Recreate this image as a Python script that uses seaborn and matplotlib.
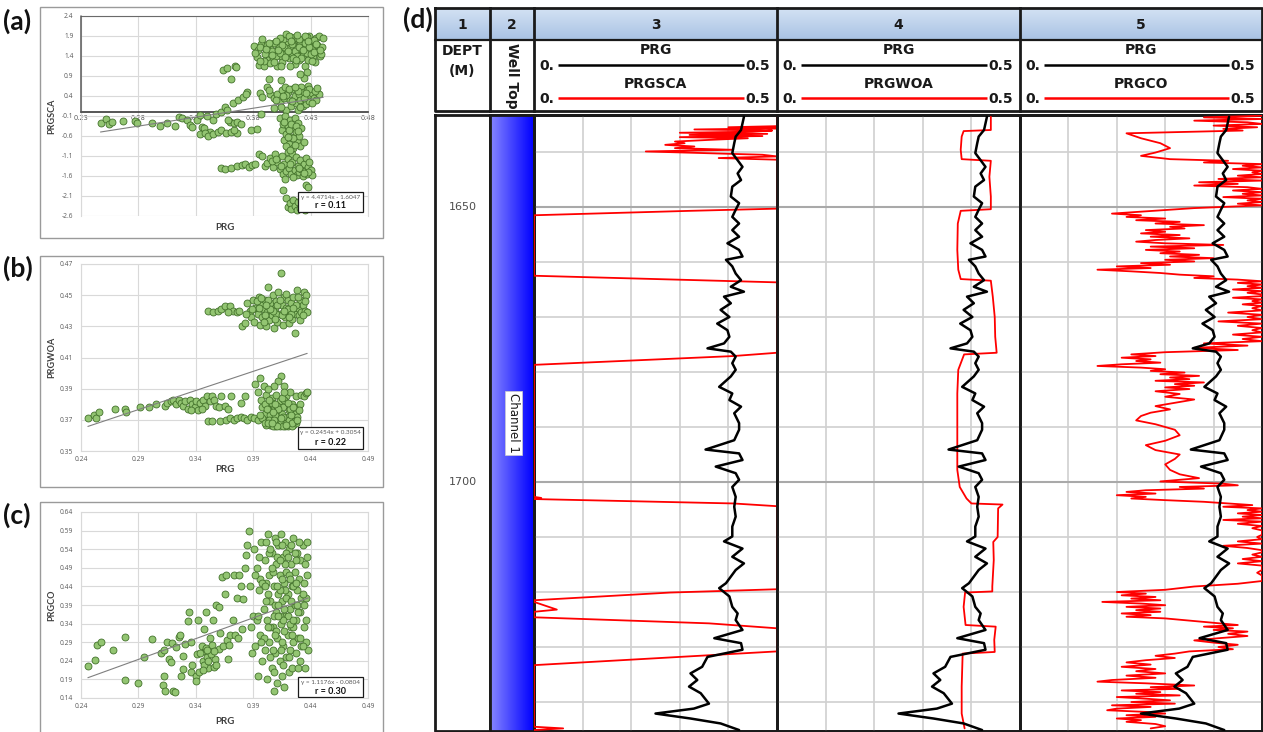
import numpy as np
import pandas as pd
import matplotlib
matplotlib.use("Agg")
import matplotlib.pyplot as plt
from matplotlib.patches import Rectangle
from matplotlib.colors import LinearSegmentedColormap
from matplotlib.ticker import FormatStrFormatter
import seaborn as sns

# ---------------------------------------------------------------- crossplot data
# (a) PRG vs PRGSCA
prg_a = [
    0.247, 0.252, 0.254, 0.257, 0.267, 0.277, 0.279, 0.292, 0.299, 0.305,
    0.312, 0.315, 0.318, 0.322, 0.325, 0.327, 0.331, 0.334, 0.335, 0.337,
    0.340, 0.342, 0.345, 0.334, 0.338, 0.341, 0.345, 0.349, 0.352, 0.356,
    0.361, 0.366, 0.363, 0.348, 0.352, 0.355, 0.357, 0.360, 0.363, 0.366,
    0.369, 0.358, 0.362, 0.367, 0.371, 0.375, 0.374, 0.354, 0.357, 0.364,
    0.361, 0.365, 0.378, 0.383, 0.385, 0.389, 0.394, 0.386, 0.388, 0.392,
    0.395, 0.398, 0.387,
    0.381, 0.384, 0.387, 0.390, 0.393, 0.395, 0.397, 0.399, 0.401, 0.402,
    0.404, 0.405, 0.406, 0.408, 0.409, 0.410, 0.411, 0.412, 0.413, 0.414,
    0.415, 0.416, 0.417, 0.418, 0.419, 0.420, 0.421, 0.422, 0.423, 0.424,
    0.425, 0.426, 0.427, 0.428, 0.429, 0.430, 0.431, 0.432, 0.433, 0.434,
    0.435, 0.436, 0.437, 0.438, 0.404, 0.395, 0.412, 0.427, 0.424, 0.428,
    0.421,
    0.383, 0.386, 0.389, 0.392, 0.396, 0.398, 0.400, 0.403, 0.407, 0.409,
    0.411, 0.414, 0.416, 0.418, 0.420, 0.422, 0.425, 0.427, 0.429, 0.431,
    0.433, 0.436, 0.439, 0.441, 0.440,
    0.394, 0.398, 0.401, 0.403, 0.405, 0.407, 0.409, 0.410, 0.412, 0.413,
    0.414, 0.416, 0.417, 0.418, 0.419, 0.420, 0.421, 0.422, 0.423, 0.424,
    0.425, 0.426, 0.427, 0.428, 0.429, 0.431, 0.433, 0.435, 0.437, 0.404,
    0.408,
    0.403, 0.405, 0.406, 0.407, 0.408, 0.409, 0.410, 0.411, 0.412, 0.413,
    0.414, 0.415, 0.416, 0.417, 0.418, 0.419, 0.420, 0.421, 0.422, 0.424,
    0.410, 0.414,
    0.352, 0.355, 0.361, 0.366, 0.370, 0.373, 0.376, 0.379, 0.382, 0.385,
    0.388, 0.390, 0.392, 0.395, 0.397, 0.399, 0.401, 0.403, 0.405, 0.406,
    0.407, 0.408, 0.409, 0.410, 0.411, 0.413, 0.414, 0.416, 0.417, 0.418,
    0.419, 0.420, 0.421, 0.422, 0.423, 0.424, 0.425, 0.426, 0.427, 0.428,
    0.429, 0.430, 0.431,
    0.406, 0.409, 0.410, 0.412, 0.413, 0.415, 0.416, 0.418, 0.419, 0.421,
    0.422, 0.423, 0.425, 0.426, 0.428, 0.428,
    0.382, 0.386, 0.391, 0.396, 0.400, 0.405, 0.410, 0.415, 0.420, 0.425,
    0.430, 0.435, 0.388, 0.394, 0.403, 0.413, 0.423, 0.433, 0.398, 0.418,
    0.408, 0.428, 0.438, 0.402, 0.417,
    0.400, 0.404, 0.409, 0.414, 0.419, 0.424, 0.429, 0.434, 0.411, 0.421,
    0.416, 0.426, 0.406, 0.431, 0.436,
    0.407, 0.409, 0.411, 0.413, 0.415, 0.417, 0.419, 0.412, 0.416, 0.410,
    0.396, 0.400, 0.404, 0.412, 0.420, 0.428, 0.415, 0.424,
]
prgsca_a = [
    -0.27, -0.18, -0.30, -0.24, -0.22, -0.22, -0.28, -0.28, -0.35, -0.28,
    -0.35, -0.13, -0.16, -0.20, -0.33, -0.38, -0.20, -0.08, -0.37, -0.41,
    -0.10, -0.49, -0.20, -0.55, -0.52, -0.60, -0.56, -0.50, -0.45, -0.52,
    -0.49, -0.52, -0.45, -0.05, 0.00, 0.12, 0.05, -0.25, -0.28, -0.26,
    -0.30, -0.20, 0.22, 0.30, 0.38, 0.50, 0.45, 1.05, 1.10, 1.15,
    0.82, 1.12, -0.45, -0.42, 1.18, 1.15, 0.82, 0.48, 0.38, 0.62,
    0.45, 0.35, -0.05,
    1.65, 1.55, 1.70, 1.45, 1.30, 1.60, 1.35, 1.50, 1.15, 1.65,
    1.40, 1.25, 1.80, 1.55, 1.95, 1.70, 1.35, 1.60, 1.88, 1.45,
    1.75, 1.20, 1.62, 1.85, 1.50, 1.30, 1.70, 1.58, 1.42, 1.82,
    1.15, 1.65, 1.48, 1.30, 1.90, 1.55, 1.75, 1.40, 1.62, 1.25,
    1.85, 1.50, 1.90, 1.40, 1.15, 1.22, 1.15, 1.00, 0.85, 0.65,
    0.95,
    1.38, 1.62, 1.28, 1.68, 1.52, 1.72, 1.40, 1.85, 1.62, 1.45,
    1.90, 1.70, 1.52, 1.40, 1.82, 1.35, 1.72, 1.88, 1.62, 1.28,
    1.80, 1.68, 1.45, 1.85, 1.62,
    0.55, 0.10, 0.45, 0.25, 0.55, 0.35, 0.05, 0.50, 0.30, 0.15,
    0.58, 0.40, 0.22, 0.60, 0.05, 0.45, 0.30, 0.62, 0.15, 0.50,
    0.35, 0.20, 0.55, 0.40, 0.28, 0.48, 0.35, 0.30, 0.45, 0.80,
    0.62,
    -0.15, -0.45, -0.30, -0.70, -0.10, -0.55, -0.35, -0.80, -0.20, -0.62,
    -0.40, -0.90, -0.15, -0.50, -0.72, -0.28, -0.60, -0.85, -0.40, -0.75,
    -1.00, -1.05,
    -1.40, -1.42, -1.40, -1.36, -1.32, -1.30, -1.38, -1.32, -1.30, -1.05,
    -1.10, -1.35, -1.28, -1.15, -1.38, -1.05, -1.25, -1.42, -1.10, -1.55,
    -1.30, -1.68, -1.48, -1.18, -1.40, -1.55, -1.25, -1.45, -1.12, -1.58,
    -1.35, -1.50, -1.20, -1.42, -1.60, -1.30, -1.48, -1.15, -1.55, -1.38,
    -1.25, -1.45, -1.58,
    -1.95, -2.15, -2.38, -2.28, -2.42, -2.20, -2.35, -2.45, -2.25, -2.40,
    -2.18, -2.32, -2.44, -1.82, -1.88, -2.30,
    1.48, 1.28, 1.58, 1.42, 1.78, 1.68, 1.52, 1.35, 1.62, 1.90,
    1.45, 1.70, 1.82, 1.72, 1.48, 1.78, 1.55, 1.50, 1.25, 1.92,
    1.38, 1.78, 1.55, 1.55, 1.30,
    0.30, 0.12, 0.42, 0.28, 0.52, 0.35, 0.58, 0.52, 0.58, 0.12,
    0.62, 0.48, 0.40, 0.22, 0.60,
    -0.25, -0.85, -0.45, -0.30, -0.65, -0.35, -0.48, -0.95, -0.82, -0.62,
    -1.22, -1.18, -1.35, -1.30, -1.40, -1.50, -1.62, -1.52,
]

# (b) PRG vs PRGWOA
prg_b = [
    0.246, 0.251, 0.253, 0.256, 0.270, 0.278, 0.279, 0.291, 0.299, 0.305,
    0.313, 0.315, 0.318, 0.320, 0.323, 0.325, 0.327, 0.329, 0.331, 0.333,
    0.335, 0.337, 0.339, 0.340, 0.342, 0.344, 0.346, 0.348, 0.350, 0.352,
    0.354, 0.356, 0.358, 0.360, 0.362, 0.365, 0.368, 0.371, 0.379, 0.383,
    0.345, 0.336,
    0.351, 0.354, 0.361, 0.366, 0.370, 0.373, 0.376, 0.379, 0.382, 0.385,
    0.388, 0.391, 0.394,
    0.392, 0.394, 0.396, 0.397, 0.398, 0.399, 0.400, 0.401, 0.402, 0.403,
    0.404, 0.405, 0.406, 0.407, 0.408, 0.409, 0.410, 0.411, 0.412, 0.413,
    0.414, 0.415, 0.416, 0.417, 0.418, 0.419, 0.420, 0.421, 0.422, 0.423,
    0.424, 0.425, 0.426, 0.427, 0.428, 0.429, 0.431, 0.432, 0.434, 0.436,
    0.437, 0.430, 0.427, 0.412, 0.408, 0.403, 0.418, 0.405, 0.410, 0.415,
    0.420, 0.400, 0.398, 0.413,
    0.401, 0.404, 0.407, 0.409, 0.411, 0.414, 0.416, 0.419, 0.421, 0.424,
    0.426, 0.402, 0.406, 0.411, 0.417, 0.422,
    0.351, 0.355, 0.359, 0.362, 0.365, 0.370, 0.372, 0.376, 0.380, 0.383,
    0.385, 0.387, 0.388, 0.390, 0.391, 0.392, 0.394, 0.395, 0.396, 0.397,
    0.398, 0.399, 0.400, 0.401, 0.402, 0.403, 0.404, 0.405, 0.406, 0.407,
    0.408, 0.409, 0.410, 0.411, 0.412, 0.413, 0.414, 0.415, 0.416, 0.417,
    0.418, 0.419, 0.420, 0.421, 0.422, 0.423, 0.424, 0.425, 0.426, 0.427,
    0.428, 0.429, 0.430, 0.431, 0.432, 0.433, 0.434, 0.435, 0.436, 0.437,
    0.393, 0.400, 0.410, 0.420,
    0.395, 0.399, 0.403, 0.407, 0.411, 0.415, 0.419, 0.423, 0.427, 0.431,
    0.435, 0.397, 0.405, 0.413, 0.421, 0.429, 0.401, 0.409, 0.417, 0.425,
    0.433, 0.389, 0.384, 0.378, 0.368,
    0.396, 0.400, 0.404, 0.408, 0.412, 0.416, 0.420, 0.424, 0.428, 0.403,
    0.407, 0.411, 0.415, 0.419, 0.423, 0.409, 0.417, 0.425, 0.414, 0.406,
]
prgwoa_b = [
    0.371, 0.373, 0.371, 0.375, 0.377, 0.377, 0.375, 0.378, 0.378, 0.380,
    0.379, 0.381, 0.382, 0.383, 0.380, 0.383, 0.381, 0.379, 0.382, 0.377,
    0.383, 0.380, 0.378, 0.382, 0.376, 0.381, 0.383, 0.379, 0.385, 0.382,
    0.385, 0.383, 0.379, 0.378, 0.385, 0.379, 0.377, 0.385, 0.381, 0.385,
    0.377, 0.376,
    0.369, 0.369, 0.369, 0.370, 0.371, 0.370, 0.371, 0.372, 0.371, 0.370,
    0.372, 0.371, 0.370,
    0.393, 0.388, 0.397, 0.383, 0.378, 0.392, 0.374, 0.386, 0.369, 0.381,
    0.376, 0.367, 0.384, 0.372, 0.379, 0.366, 0.386, 0.374, 0.369, 0.382,
    0.398, 0.367, 0.378, 0.392, 0.371, 0.385, 0.366, 0.376, 0.388, 0.369,
    0.380, 0.367, 0.374, 0.385, 0.372, 0.378, 0.380, 0.386, 0.385, 0.387,
    0.388, 0.376, 0.368, 0.395, 0.392, 0.390, 0.366, 0.373, 0.370, 0.374,
    0.372, 0.380, 0.371, 0.366,
    0.367, 0.370, 0.366, 0.373, 0.367, 0.369, 0.366, 0.368, 0.370, 0.366,
    0.369, 0.377, 0.381, 0.379, 0.383, 0.377,
    0.440, 0.439, 0.440, 0.441, 0.443, 0.443, 0.440, 0.439, 0.430, 0.432,
    0.445, 0.440, 0.436, 0.447, 0.433, 0.442, 0.438, 0.449, 0.431, 0.444,
    0.436, 0.441, 0.447, 0.430, 0.439, 0.455, 0.434, 0.445, 0.437, 0.450,
    0.429, 0.442, 0.446, 0.433, 0.452, 0.438, 0.464, 0.444, 0.431, 0.449,
    0.436, 0.442, 0.447, 0.432, 0.440, 0.445, 0.435, 0.449, 0.426, 0.438,
    0.453, 0.442, 0.437, 0.447, 0.439, 0.444, 0.452, 0.440, 0.450, 0.439,
    0.446, 0.437, 0.438, 0.441,
    0.442, 0.433, 0.447, 0.440, 0.444, 0.437, 0.451, 0.438, 0.444, 0.434,
    0.446, 0.448, 0.441, 0.447, 0.436, 0.449, 0.444, 0.435, 0.440, 0.442,
    0.437, 0.441, 0.438, 0.440, 0.439,
    0.373, 0.368, 0.383, 0.370, 0.377, 0.372, 0.381, 0.368, 0.370, 0.368,
    0.375, 0.366, 0.384, 0.367, 0.373, 0.380, 0.388, 0.378, 0.371, 0.368,
]

# (c) PRG vs PRGCO
prg_c = [
    0.246, 0.252, 0.254, 0.257, 0.268, 0.278, 0.278, 0.290, 0.295, 0.302,
    0.310, 0.312, 0.312, 0.311, 0.313, 0.315, 0.317, 0.318, 0.319, 0.320,
    0.322, 0.323, 0.325, 0.326, 0.327, 0.329, 0.329, 0.331, 0.333, 0.334,
    0.336, 0.336, 0.337, 0.340, 0.340, 0.342, 0.341, 0.343, 0.345, 0.347,
    0.348, 0.349, 0.346, 0.350, 0.351, 0.352, 0.353, 0.355, 0.356, 0.357,
    0.358, 0.360, 0.360, 0.361, 0.363, 0.364, 0.365, 0.366, 0.367, 0.368,
    0.369, 0.370, 0.372, 0.373, 0.374, 0.376, 0.377, 0.378, 0.379, 0.380,
    0.381, 0.383, 0.384, 0.385, 0.386, 0.387, 0.388, 0.389, 0.390,
    0.344, 0.347, 0.349, 0.351, 0.353, 0.354, 0.356, 0.358, 0.346, 0.350,
    0.391, 0.392, 0.393, 0.394, 0.395, 0.396, 0.397, 0.398, 0.399, 0.400,
    0.400, 0.401, 0.402, 0.402, 0.403, 0.404, 0.404, 0.405, 0.406, 0.406,
    0.407, 0.408, 0.408, 0.409, 0.409, 0.410, 0.410, 0.411, 0.411, 0.412,
    0.412, 0.413, 0.413, 0.414, 0.414, 0.415, 0.415, 0.416, 0.416, 0.417,
    0.417, 0.418, 0.418, 0.419, 0.419, 0.420, 0.420, 0.421, 0.421, 0.422,
    0.422, 0.423, 0.423, 0.424, 0.424, 0.425, 0.425, 0.426, 0.426, 0.427,
    0.427, 0.428, 0.428, 0.429, 0.429, 0.430, 0.431, 0.431, 0.432, 0.432,
    0.433, 0.434, 0.434, 0.435, 0.435, 0.436, 0.436, 0.437, 0.438, 0.437,
    0.393, 0.396, 0.399, 0.401, 0.403, 0.405, 0.407, 0.409, 0.411, 0.413,
    0.415, 0.417, 0.419, 0.421, 0.423, 0.425, 0.427, 0.429, 0.431, 0.433,
    0.405, 0.410, 0.415, 0.420, 0.425, 0.412, 0.418, 0.408, 0.422, 0.414,
    0.392, 0.395, 0.398, 0.401, 0.404, 0.407, 0.410, 0.413, 0.416, 0.419,
    0.422, 0.425, 0.428, 0.431, 0.434, 0.437, 0.394, 0.400, 0.406, 0.412,
    0.418, 0.424, 0.430, 0.436, 0.397, 0.403, 0.409, 0.415, 0.421, 0.427,
    0.433, 0.411, 0.417, 0.423, 0.405, 0.413, 0.420, 0.426, 0.408, 0.416,
]
prgco_c = [
    0.226, 0.241, 0.283, 0.290, 0.268, 0.303, 0.188, 0.181, 0.250, 0.298,
    0.262, 0.270, 0.200, 0.176, 0.160, 0.290, 0.244, 0.236, 0.288, 0.158,
    0.155, 0.278, 0.305, 0.310, 0.200, 0.218, 0.253, 0.285, 0.348, 0.370,
    0.290, 0.210, 0.230, 0.200, 0.185, 0.350, 0.258, 0.210, 0.280, 0.325,
    0.265, 0.370, 0.240, 0.250, 0.220, 0.300, 0.272, 0.350, 0.222, 0.245,
    0.390, 0.385, 0.272, 0.315, 0.465, 0.280, 0.420, 0.470, 0.295, 0.245,
    0.282, 0.310, 0.350, 0.470, 0.310, 0.410, 0.300, 0.470, 0.440, 0.325,
    0.405, 0.490, 0.525, 0.550, 0.590, 0.440, 0.330, 0.260, 0.360,
    0.262, 0.228, 0.275, 0.240, 0.258, 0.282, 0.265, 0.230, 0.215, 0.268,
    0.54, 0.28, 0.49, 0.20, 0.43, 0.31, 0.56, 0.24, 0.38, 0.51,
    0.27, 0.45, 0.19, 0.35, 0.58, 0.29, 0.47, 0.40, 0.22, 0.53,
    0.33, 0.16, 0.44, 0.57, 0.26, 0.37, 0.50, 0.18, 0.30, 0.42,
    0.55, 0.24, 0.47, 0.34, 0.58, 0.20, 0.40, 0.52, 0.28, 0.45,
    0.17, 0.36, 0.56, 0.25, 0.48, 0.31, 0.42, 0.21, 0.54, 0.38,
    0.27, 0.50, 0.33, 0.44, 0.22, 0.57, 0.29, 0.39, 0.48, 0.26,
    0.35, 0.53, 0.43, 0.30, 0.22, 0.46, 0.37, 0.51, 0.28, 0.41,
    0.55, 0.33, 0.45, 0.50, 0.22, 0.29, 0.41, 0.52, 0.27, 0.56,
    0.35, 0.46, 0.30, 0.56, 0.42, 0.33, 0.48, 0.39, 0.52, 0.36,
    0.46, 0.32, 0.41, 0.47, 0.40, 0.44, 0.51, 0.37, 0.24, 0.42,
    0.25, 0.32, 0.29, 0.36, 0.33, 0.39, 0.43, 0.36, 0.34, 0.27,
    0.47, 0.52, 0.45, 0.40, 0.53, 0.27, 0.56, 0.43, 0.35, 0.53,
    0.46, 0.35, 0.39, 0.30, 0.39, 0.47, 0.36, 0.44, 0.49, 0.36,
    0.50, 0.31, 0.56, 0.35, 0.29, 0.33, 0.31, 0.55, 0.25, 0.45,
    0.28, 0.44, 0.38, 0.55, 0.54, 0.51, 0.52, 0.53, 0.21, 0.23,
]

# trend lines printed on each crossplot: slope, intercept, r
fit_a = (4.4714, -1.6047, 0.11)
fit_b = (0.2454, 0.3054, 0.22)
fit_c = (1.1176, -0.0804, 0.30)

# ---------------------------------------------------------------- well log data
prg_depth = [
    1633.6, 1634.8, 1636.0, 1637.2, 1638.4, 1640.2, 1641.5, 1642.7, 1643.9, 1645.1,
    1646.3, 1648.1, 1649.3, 1650.5, 1651.8, 1653.0, 1654.2, 1655.4, 1656.6, 1657.8,
    1659.0, 1659.6, 1660.8, 1662.1, 1663.3, 1664.5, 1665.4, 1666.3, 1667.5, 1668.7,
    1670.0, 1671.2, 1672.4, 1673.6, 1674.8, 1675.7, 1676.3, 1677.2, 1678.4, 1679.6,
    1680.8, 1682.7, 1683.9, 1685.1, 1686.3, 1687.5, 1689.3, 1690.5, 1692.4, 1694.1,
    1694.8, 1696.0, 1697.2, 1698.4, 1699.6, 1700.9, 1702.7, 1704.5, 1706.3, 1708.1,
    1709.9, 1710.8, 1712.1, 1713.6, 1714.8, 1716.0, 1717.2, 1718.4, 1719.3, 1720.8,
    1722.7, 1723.9, 1725.1, 1726.9, 1728.4, 1729.3, 1730.5, 1731.8, 1733.6, 1734.8,
    1736.0, 1737.2, 1738.4, 1740.3, 1741.2, 1742.1, 1743.0, 1743.9, 1745.1,
]
prg_log = [
    0.432, 0.429, 0.426, 0.415, 0.412, 0.408, 0.419, 0.429, 0.419, 0.426,
    0.408, 0.405, 0.422, 0.415, 0.408, 0.422, 0.408, 0.422, 0.398, 0.422,
    0.429, 0.395, 0.408, 0.415, 0.426, 0.405, 0.432, 0.391, 0.405, 0.384,
    0.402, 0.377, 0.398, 0.402, 0.391, 0.357, 0.405, 0.415, 0.408, 0.415,
    0.405, 0.381, 0.408, 0.402, 0.426, 0.412, 0.422, 0.422, 0.412, 0.353,
    0.422, 0.429, 0.374, 0.415, 0.422, 0.408, 0.415, 0.412, 0.415, 0.408,
    0.408, 0.391, 0.429, 0.408, 0.432, 0.415, 0.405, 0.395, 0.381, 0.402,
    0.408, 0.419, 0.415, 0.429, 0.371, 0.426, 0.429, 0.357, 0.346, 0.322,
    0.336, 0.319, 0.343, 0.360, 0.329, 0.250, 0.322, 0.384, 0.422,
]

prgsca_depth = [
    1633.3, 1635.3, 1635.5, 1635.7, 1635.9, 1636.1, 1636.3, 1636.5, 1636.7, 1636.9,
    1637.1, 1637.3, 1637.5, 1637.8, 1638.1, 1638.4, 1638.7, 1639.0, 1639.3, 1639.6,
    1639.9, 1640.2, 1640.5, 1640.8, 1641.1, 1641.4, 1649.9, 1650.3, 1650.7, 1651.5,
    1662.4, 1662.5, 1663.7, 1663.9, 1676.3, 1676.5, 1677.1, 1678.7, 1678.9, 1702.7,
    1702.9, 1703.1, 1703.9, 1704.4, 1719.3, 1719.5, 1720.1, 1721.5, 1721.8, 1723.2,
    1723.6, 1724.6, 1725.7, 1726.6, 1726.9, 1730.5, 1730.8, 1731.5, 1733.3, 1733.6,
    1744.5, 1744.8, 1745.1,
]
prgsca_log = [
    1.50, 1.40, 0.40, 0.50, 0.33, 0.49, 0.45, 0.30, 0.48, 0.32,
    0.47, 0.30, 0.44, 0.36, 0.29, 0.31, 0.27, 0.33, 0.29, 0.41,
    0.23, 0.35, 0.47, 0.52, 0.38, 0.90, 1.10, 0.60, 0.32, -0.50,
    -0.60, -0.10, 0.60, 1.20, 1.10, 0.55, 0.41, -0.05, -0.80, -0.70,
    0.015, -0.02, 0.41, 1.20, 1.30, 0.50, 0.28, -0.05, -0.70, 0.047,
    -0.30, -0.02, 0.36, 0.55, 1.20, 1.10, 0.50, 0.36, -0.03, -0.90,
    -1.00, 0.06, -0.50,
]

prgwoa_depth = [
    1633.6, 1636.0, 1636.2, 1637.2, 1639.6, 1641.3, 1641.6, 1644.5, 1648.1, 1650.4,
    1650.7, 1653.0, 1657.8, 1661.4, 1663.1, 1663.4, 1666.3, 1670.0, 1673.6, 1676.5,
    1676.8, 1679.6, 1683.9, 1689.9, 1697.8, 1700.9, 1703.0, 1703.9, 1704.1, 1704.8,
    1710.0, 1710.9, 1714.2, 1719.0, 1719.9, 1720.1, 1722.7, 1726.0, 1726.3, 1728.7,
    1730.9, 1731.2, 1737.2, 1742.1, 1744.8,
]
prgwoa_log = [
    0.440, 0.440, 0.384, 0.380, 0.378, 0.380, 0.440, 0.437, 0.440, 0.440,
    0.378, 0.372, 0.371, 0.373, 0.378, 0.440, 0.444, 0.448, 0.449, 0.452,
    0.385, 0.373, 0.371, 0.371, 0.371, 0.376, 0.390, 0.400, 0.464, 0.455,
    0.454, 0.445, 0.446, 0.443, 0.443, 0.387, 0.384, 0.388, 0.450, 0.447,
    0.448, 0.382, 0.380, 0.380, 0.386,
]

prgco_depth = [
    1633.4, 1633.7, 1634.0, 1634.3, 1634.6, 1634.9, 1635.2, 1635.5, 1635.8, 1636.1,
    1636.6, 1637.5, 1638.4, 1639.3, 1640.1, 1640.7, 1641.3, 1641.6, 1641.9, 1642.2,
    1642.5, 1642.8, 1643.1, 1643.4, 1643.7, 1644.0, 1644.3, 1644.6, 1644.9, 1645.2,
    1645.5, 1645.8, 1646.1, 1646.4, 1646.7, 1647.0, 1647.3, 1647.6, 1647.9, 1648.2,
    1648.5, 1648.8, 1649.1, 1649.4, 1649.7, 1650.2, 1650.8, 1651.2, 1651.5, 1651.8,
    1652.1, 1652.4, 1652.7, 1653.0, 1653.3, 1653.6, 1653.9, 1654.2, 1654.5, 1654.8,
    1655.1, 1655.4, 1655.7, 1656.0, 1656.3, 1656.6, 1656.9, 1657.2, 1657.5, 1657.8,
    1658.1, 1658.4, 1658.7, 1659.0, 1659.3, 1659.6, 1659.9, 1660.2, 1660.5, 1660.8,
    1661.1, 1661.4, 1661.7, 1662.0, 1662.3, 1662.6, 1662.9, 1663.2, 1663.5, 1663.8,
    1664.1, 1664.4, 1664.7, 1665.0, 1665.3, 1665.6, 1665.9, 1666.2, 1666.5, 1666.8,
    1667.1, 1667.4, 1667.7, 1668.0, 1668.4, 1668.8, 1669.2, 1669.6, 1670.0, 1670.4,
    1670.8, 1671.2, 1671.6, 1672.0, 1672.4, 1672.8, 1673.2, 1673.6, 1674.0, 1674.4,
    1674.8, 1675.2, 1675.6, 1676.0, 1676.4, 1676.8, 1677.1, 1677.4, 1677.7, 1678.0,
    1678.3, 1678.6, 1678.9, 1679.2, 1679.5, 1679.8, 1680.1, 1680.4, 1680.7, 1681.0,
    1681.3, 1681.6, 1681.9, 1682.2, 1682.5, 1682.8, 1683.1, 1683.5, 1684.0, 1684.5,
    1685.0, 1685.6, 1686.2, 1686.8, 1687.4, 1688.0, 1688.8, 1689.5, 1690.5, 1691.5,
    1692.5, 1693.3, 1694.2, 1695.0, 1695.8, 1696.8, 1697.8, 1698.6, 1699.3, 1699.9,
    1700.3, 1700.6, 1700.9, 1701.2, 1701.5, 1701.8, 1702.1, 1702.4, 1702.7, 1703.0,
    1703.3, 1703.6, 1703.9, 1704.2, 1704.5, 1704.8, 1705.1, 1705.4, 1705.7, 1706.0,
    1706.3, 1706.6, 1706.9, 1707.2, 1707.6, 1708.0, 1708.4, 1708.8, 1709.2, 1709.6,
    1710.0, 1710.4, 1710.8, 1711.2, 1711.6, 1712.0, 1712.4, 1712.8, 1713.2, 1713.6,
    1714.0, 1714.4, 1714.8, 1715.2, 1715.6, 1716.0, 1716.5, 1717.0, 1717.5, 1718.0,
    1718.5, 1719.0, 1719.6, 1720.0, 1720.3, 1720.6, 1720.9, 1721.2, 1721.5, 1721.8,
    1722.1, 1722.4, 1722.7, 1723.0, 1723.3, 1723.6, 1723.9, 1724.2, 1724.5, 1724.8,
    1725.2, 1725.6, 1726.0, 1726.3, 1726.6, 1726.9, 1727.2, 1727.6, 1728.0, 1728.4,
    1728.8, 1729.2, 1729.6, 1730.0, 1730.4, 1730.8, 1731.2, 1731.6, 1732.0, 1732.4,
    1732.8, 1733.2, 1733.6, 1734.0, 1734.4, 1734.8, 1735.2, 1735.6, 1736.0, 1736.3,
    1736.6, 1737.0, 1737.3, 1737.6, 1737.9, 1738.2, 1738.5, 1738.8, 1739.1, 1739.4,
    1739.7, 1740.0, 1740.3, 1740.6, 1740.9, 1741.2, 1741.5, 1741.8, 1742.1, 1742.4,
    1742.7, 1743.0, 1743.3, 1743.6, 1744.0, 1744.4, 1744.8,
]
prgco_log = [
    0.50, 0.38, 0.52, 0.36, 0.47, 0.53, 0.40, 0.49, 0.42, 0.46,
    0.22, 0.25, 0.29, 0.31, 0.28, 0.25, 0.31, 0.43, 0.38, 0.53,
    0.46, 0.55, 0.44, 0.52, 0.48, 0.55, 0.45, 0.52, 0.41, 0.50,
    0.37, 0.45, 0.36, 0.47, 0.53, 0.44, 0.55, 0.46, 0.53, 0.42,
    0.54, 0.47, 0.55, 0.45, 0.52, 0.36, 0.26, 0.19, 0.25, 0.22,
    0.30, 0.24, 0.33, 0.28, 0.38, 0.31, 0.34, 0.26, 0.30, 0.25,
    0.33, 0.27, 0.35, 0.28, 0.24, 0.30, 0.42, 0.27, 0.36, 0.26,
    0.33, 0.29, 0.37, 0.31, 0.40, 0.30, 0.36, 0.25, 0.31, 0.20,
    0.27, 0.16, 0.23, 0.29, 0.33, 0.40, 0.36, 0.45, 0.54, 0.45,
    0.53, 0.47, 0.56, 0.44, 0.52, 0.47, 0.57, 0.50, 0.44, 0.55,
    0.48, 0.56, 0.46, 0.53, 0.48, 0.55, 0.43, 0.52, 0.47, 0.55,
    0.41, 0.50, 0.45, 0.54, 0.48, 0.55, 0.44, 0.52, 0.46, 0.54,
    0.38, 0.47, 0.36, 0.45, 0.30, 0.23, 0.28, 0.21, 0.27, 0.24,
    0.29, 0.21, 0.16, 0.25, 0.30, 0.27, 0.34, 0.29, 0.37, 0.31,
    0.35, 0.28, 0.38, 0.32, 0.36, 0.30, 0.35, 0.28, 0.33, 0.30,
    0.36, 0.32, 0.28, 0.31, 0.27, 0.25, 0.24, 0.28, 0.32, 0.33,
    0.30, 0.26, 0.28, 0.33, 0.32, 0.30, 0.31, 0.33, 0.37, 0.29,
    0.42, 0.45, 0.33, 0.38, 0.26, 0.22, 0.28, 0.20, 0.26, 0.23,
    0.30, 0.38, 0.43, 0.48, 0.42, 0.53, 0.47, 0.55, 0.45, 0.52,
    0.46, 0.53, 0.42, 0.50, 0.45, 0.53, 0.48, 0.55, 0.50, 0.54,
    0.49, 0.53, 0.45, 0.51, 0.42, 0.47, 0.52, 0.55, 0.48, 0.54,
    0.46, 0.52, 0.45, 0.54, 0.50, 0.55, 0.49, 0.54, 0.50, 0.55,
    0.45, 0.36, 0.30, 0.20, 0.26, 0.21, 0.28, 0.23, 0.29, 0.17,
    0.25, 0.30, 0.22, 0.29, 0.24, 0.29, 0.21, 0.27, 0.22, 0.30,
    0.35, 0.40, 0.45, 0.38, 0.44, 0.40, 0.47, 0.43, 0.47, 0.41,
    0.36, 0.40, 0.45, 0.41, 0.44, 0.35, 0.32, 0.28, 0.32, 0.26,
    0.22, 0.27, 0.21, 0.28, 0.24, 0.30, 0.22, 0.28, 0.19, 0.16,
    0.26, 0.36, 0.27, 0.33, 0.21, 0.29, 0.24, 0.33, 0.20, 0.26,
    0.31, 0.23, 0.32, 0.19, 0.27, 0.20, 0.18, 0.26, 0.30, 0.22,
    0.28, 0.20, 0.25, 0.22, 0.28, 0.30, 0.27,
]

depth_labels = [1650, 1700]
zone_name = "Channel 1"
zone_depth = 1689.3
track_curves = ["PRGSCA", "PRGWOA", "PRGCO"]
track_numbers = ["1", "2", "3", "4", "5"]

# ---------------------------------------------------------------- figure setup
sns.set_theme(style="white")
plt.rcParams["font.family"] = ["DejaVu Sans"]
CAL = ["Lato", "DejaVu Sans"]
TICKFONT = ["Open Sans", "DejaVu Sans"]

W, H = 1263, 732
fig = plt.figure(figsize=(W / 100, H / 100), dpi=100)


def frac(x0, y0, x1, y1):
    """Pixel box (top-left origin) -> figure fraction rect."""
    return [x0 / W, 1 - y1 / H, (x1 - x0) / W, (y1 - y0) / H]


# background canvas in pixel units for frames and headers
ov = fig.add_axes([0, 0, 1, 1])
ov.axis("off")

MARK_FACE = "#93c572"
MARK_EDGE = "#43722b"


def crossplot(area, frame, x, y, yname, ylim, ystep, yfmt, fit, letter,
              letter_y, xlab_y, box_y, zero_axis=False):
    ov.add_patch(Rectangle((frame[0], frame[1]), frame[2] - frame[0],
                           frame[3] - frame[1], fill=False, ec="#9a9a9a", lw=1.0))
    ov.text(3, letter_y, letter, fontsize=19, fontweight="bold", ha="left",
            va="center", family=CAL, color="#111111")
    ax = fig.add_axes(frac(*area))
    df = pd.DataFrame({"PRG": x, yname: y})
    sns.scatterplot(data=df, x="PRG", y=yname, ax=ax, s=25, color=MARK_FACE,
                    edgecolor=MARK_EDGE, linewidth=0.6, zorder=3)
    slope, icpt, r = fit
    xl = np.array([min(x), max(x)])
    ax.plot(xl, slope * xl + icpt, color="#7f7f7f", lw=0.8, zorder=4)
    xlim = (0.23, 0.48) if zero_axis else (0.24, 0.49)
    ax.set_xlim(*xlim)
    ax.set_ylim(*ylim)
    ax.set_xticks(np.round(np.arange(xlim[0], xlim[1] + 1e-9, 0.05), 2))
    ax.set_yticks(np.round(np.arange(ylim[0], ylim[1] + 1e-9, ystep), 2))
    ax.xaxis.set_major_formatter(FormatStrFormatter("%.2f"))
    ax.yaxis.set_major_formatter(FormatStrFormatter(yfmt))
    ax.grid(True, color="#d9d9d9", lw=0.8)
    ax.set_axisbelow(True)
    ax.tick_params(length=0, labelsize=4.8, colors="#595959")
    ax.tick_params(axis="y", pad=5.5)
    ax.tick_params(axis="x", pad=3.5)
    for lab in ax.get_xticklabels() + ax.get_yticklabels():
        lab.set_family(TICKFONT)
    for s in ax.spines.values():
        s.set_color("#d9d9d9")
        s.set_linewidth(0.8)
    if zero_axis:
        # value axis drawn as a dark line crossing at zero
        ax.spines["bottom"].set_position(("data", 0))
        ax.spines["bottom"].set_color("#3a3a3a")
        ax.spines["bottom"].set_linewidth(1.2)
        ax.spines["top"].set_color("#6a6a6a")
        ax.plot([xlim[0], xlim[0]], [0, ylim[1]], color="#5a5a5a", lw=1.1,
                zorder=5, clip_on=False)
        ax.tick_params(axis="x", pad=2)
    ax.set_xlabel("PRG", fontsize=7, fontweight="bold", color="#404040", family=CAL)
    ax.set_ylabel(yname, fontsize=6.5, fontweight="bold", color="#404040", family=CAL)
    ax.xaxis.label.set_va("center")
    ax.yaxis.label.set_va("center")
    ax.xaxis.set_label_coords(0.5, xlab_y)
    ax.yaxis.set_label_coords(-0.101, 0.5)
    # equation box
    bx0, bx1 = 0.756, 0.983
    by0, by1 = box_y
    ax.add_patch(Rectangle((bx0, by0), bx1 - bx0, by1 - by0, transform=ax.transAxes,
                           fc="white", ec="#1a1a1a", lw=0.9, zorder=6))
    sign = "+" if icpt >= 0 else "-"
    ax.text((bx0 + bx1) / 2, by0 + 0.73 * (by1 - by0),
            f"y = {slope:.4f}x {sign} {abs(icpt):.4f}",
            transform=ax.transAxes, fontsize=4.6, color="#595959", ha="center",
            va="center", zorder=7, family=CAL)
    ax.text((bx0 + bx1) / 2, by0 + 0.30 * (by1 - by0), f"r = {r:.2f}",
            transform=ax.transAxes, fontsize=6.5, fontweight="bold", color="#111111",
            ha="center", va="center", zorder=7, family=CAL)
    return ax


crossplot((81, 16, 368, 216), (40, 7, 383, 238), prg_a, prgsca_a, "PRGSCA",
          (-2.6, 2.4), 0.5, "%.1f", fit_a, "(a)", 21, -0.055, (0.02, 0.12),
          zero_axis=True)
crossplot((81, 264, 368, 451), (40, 256, 383, 487), prg_b, prgwoa_b, "PRGWOA",
          (0.35, 0.47), 0.02, "%.2f", fit_b, "(b)", 268, -0.10, (0.011, 0.128))
crossplot((81, 512, 368, 698), (40, 502, 383, 740), prg_c, prgco_c, "PRGCO",
          (0.14, 0.64), 0.05, "%.2f", fit_c, "(c)", 515, -0.129, (0.005, 0.113))

# ---------------------------------------------------------------- log layout (d)
LOG_TOP, LOG_BOT = 115, 731
PX_PER_M = 5.5
D_TOP = 1650 + (LOG_TOP - 207) / PX_PER_M
D_BOT = 1650 + (LOG_BOT - 207) / PX_PER_M
TRACK_X = [(534, 777), (777, 1020), (1020, 1262)]

ov.text(403, 19, "(d)", fontsize=19, fontweight="bold", ha="left", va="center",
        family=CAL, color="#111111")

# header row 1 gradient
hdr_cmap = LinearSegmentedColormap.from_list("hdr", ["#d3e1f3", "#a9c3e4"])
ov.imshow(np.linspace(0, 1, 40).reshape(-1, 1), extent=(435, 1262, 40, 8),
          cmap=hdr_cmap, aspect="auto", zorder=0)

HDR = dict(fontsize=10, fontweight="bold", color="#1a1a1a", ha="center", va="center")
col_centres = [462.5, 512, 655.5, 898.5, 1141]
for cx, num in zip(col_centres, track_numbers):
    ov.text(cx, 25, num, **HDR)
ov.text(462.5, 51, "DEPT", **HDR)
ov.text(462.5, 71, "(M)", **HDR)
ov.text(512, 76, "Well Top", rotation=-90, **HDR)

for (x0, x1), name in zip(TRACK_X, track_curves):
    cx = (x0 + x1) / 2
    ov.text(cx, 50, "PRG", **HDR)
    ov.text(cx, 84, name, **HDR)
    for yy, col in ((65, "black"), (98, "red")):
        ov.plot([x0 + 24, x1 - 33], [yy, yy], color=col, lw=1.8, solid_capstyle="butt")
        ov.text(x0 + 5, yy + 1, "0.", fontsize=10, fontweight="bold", color="#1a1a1a",
                ha="left", va="center")
        ov.text(x1 - 7, yy + 1, "0.5", fontsize=10, fontweight="bold", color="#1a1a1a",
                ha="right", va="center")

# header frame
FR = dict(color="#1a1a1a", lw=2.0, solid_capstyle="projecting")
ov.plot([435, 1262, 1262, 435, 435], [8, 8, 111, 111, 8], **FR)
ov.plot([435, 1262], [40, 40], color="#1a1a1a", lw=1.6)
for xv in (490, 534, 777, 1020):
    ov.plot([xv, xv], [8, 111], **FR)
# log frame
ov.plot([435, 1262, 1262, 435, 435], [LOG_TOP, LOG_TOP, LOG_BOT, LOG_BOT, LOG_TOP], **FR)
for xv in (490, 534):
    ov.plot([xv, xv], [LOG_TOP, LOG_BOT], **FR)

ov.set_xlim(0, W)
ov.set_ylim(H, 0)

# track 1: depth labels
ax1 = fig.add_axes(frac(435, LOG_TOP, 490, LOG_BOT))
ax1.set_facecolor("none")
ax1.set_xlim(0, 1)
ax1.set_ylim(D_BOT, D_TOP)
ax1.axis("off")
for d in depth_labels:
    ax1.text(0.5, d, str(d), fontsize=8, color="#4d4d4d", ha="center", va="center")

# track 2: well top zone
ax2 = fig.add_axes(frac(490, LOG_TOP, 534, LOG_BOT))
blue_cmap = LinearSegmentedColormap.from_list("zone", ["#8686ff", "#0000ff"])
ax2.imshow(np.linspace(0, 1, 64).reshape(1, -1), extent=(0, 1, D_BOT, D_TOP),
           cmap=blue_cmap, aspect="auto")
ax2.set_xlim(0, 1)
ax2.set_ylim(D_BOT, D_TOP)
ax2.set_xticks([])
ax2.set_yticks([])
for s in ax2.spines.values():
    s.set_color("#1a1a1a")
    s.set_linewidth(2.0)
ax2.text(0.53, zone_depth, zone_name, rotation=-90, fontsize=8.5, color="#1a1a1a",
         ha="center", va="center",
         bbox=dict(boxstyle="square,pad=0.15", fc="white", ec="#cccccc", lw=0.5))

# tracks 3-5: PRG against each derived curve
red_curves = [(prgsca_depth, prgsca_log), (prgwoa_depth, prgwoa_log),
              (prgco_depth, prgco_log)]
for (x0, x1), (rd, rv) in zip(TRACK_X, red_curves):
    ax = fig.add_axes(frac(x0, LOG_TOP, x1, LOG_BOT))
    ax.set_facecolor("none")
    sns.lineplot(x=np.clip(rv, 0.0, 0.5), y=rd, sort=False, estimator=None,
                 color="#ff0000", lw=1.3, ax=ax, zorder=3)
    sns.lineplot(x=prg_log, y=prg_depth, sort=False, estimator=None,
                 color="black", lw=1.8, ax=ax, zorder=4)
    ax.set_xlim(0, 0.5)
    ax.set_ylim(D_BOT, D_TOP)
    ax.set_xticks([0.1, 0.2, 0.3, 0.4])
    ax.set_yticks(np.arange(1640, 1750, 10))
    ax.grid(True, color="#d0d0d0", lw=1.2)
    for d in depth_labels:
        ax.axhline(d, color="#a9a9a9", lw=1.5, zorder=1)
    ax.tick_params(length=0, labelleft=False, labelbottom=False)
    ax.set_xlabel("")
    ax.set_ylabel("")
    for s in ax.spines.values():
        s.set_color("#1a1a1a")
        s.set_linewidth(2.0)

fig.savefig("out.png", dpi=100)
